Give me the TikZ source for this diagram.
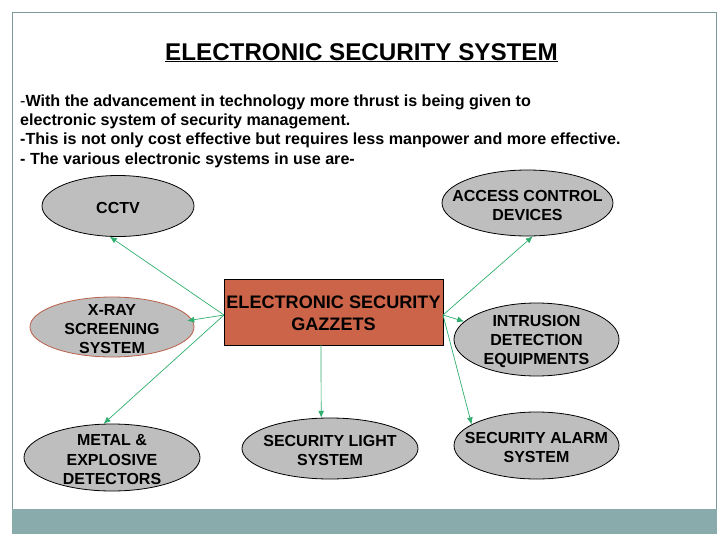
\documentclass[tikz,border=0pt]{standalone}
\usepackage{fontspec}
\setmainfont{Liberation Sans}
\usepackage{tikz}
\usetikzlibrary{arrows.meta}
\usetikzlibrary{shapes.geometric}
\definecolor{teal band}{HTML}{8AABAB}
\definecolor{frame gray}{HTML}{7F9A9A}
\definecolor{arrow green}{HTML}{2FAE6E}
\definecolor{box red}{HTML}{CC6449}
\definecolor{oval gray}{HTML}{BEBEBE}
\definecolor{oval red}{HTML}{B9604A}
\newcommand{\droptext}{\rule{0pt}{15.5pt}}
\tikzset{oval/.style = {ellipse, draw, line width = 0.8pt, fill = oval gray, inner xsep = -70, inner ysep = -30, align = center, font = \fontsize{16}{19.2}\selectfont\bfseries}}
\tikzset{link/.style = {draw = arrow green, line width = 0.7pt, -{Latex[length = 7pt, width = 6pt]}}}
\tikzset{bodyline/.style = {anchor = base west, inner sep = 0, font = \fontsize{16.1}{18}\selectfont\bfseries}}

\begin{document}
\begin{tikzpicture}[x = 1pt, y = -1pt]
    \useasboundingbox (0, 0) rectangle (728, 546);

    \draw [frame gray, line width = 1pt] (12.5, 12.5) rectangle (716, 510);
    \fill [teal band] (12, 509) rectangle (716.5, 534);

    \node (title) [anchor = base, inner sep = 0, font = \fontsize{24.2}{28}\selectfont\bfseries] at (361.5, 60) {\underline{ELECTRONIC SECURITY SYSTEM}};
    \node (lineA) [bodyline] at (20, 106.5) {{\mdseries -}With the advancement in technology more thrust is being given to};
    \node (lineB) [bodyline] at (20, 125.5) {electronic system of security management.};
    \node (lineC) [bodyline] at (20, 144.5) {-This is not only cost effective but requires less manpower and more effective.};
    \node (lineD) [bodyline] at (20, 164) {- The various electronic systems in use are-};

    \node (gazzets) [draw, line width = 0.8pt, fill = box red, minimum width = 219, minimum height = 66, inner sep = 0, align = center, font = \fontsize{18.1}{22}\selectfont\bfseries] at (333.5, 312) {\droptext ELECTRONIC SECURITY\\GAZZETS};

    \node (cctv) [oval, minimum width = 152, minimum height = 61] at (118, 206) {\droptext CCTV};
    \node (xray) [oval, draw = oval red, minimum width = 164, minimum height = 60] at (112, 327) {\droptext X-RAY\\SCREENING\\SYSTEM};
    \node (metal) [oval, minimum width = 176, minimum height = 67] at (112, 457.5) {\droptext METAL \&\\EXPLOSIVE\\DETECTORS};
    \node (light) [oval, minimum width = 176, minimum height = 61] at (330, 448.5) {\droptext SECURITY LIGHT\\SYSTEM};
    \node (access) [oval, minimum width = 171, minimum height = 66] at (527.5, 203) {\droptext ACCESS CONTROL\\DEVICES};
    \node (intrusion) [oval, minimum width = 165, minimum height = 73] at (536.5, 339.5) {\droptext INTRUSION\\DETECTION\\EQUIPMENTS};
    \node (alarm) [oval, minimum width = 165, minimum height = 67] at (536.5, 445.5) {\droptext SECURITY ALARM\\SYSTEM};

    \coordinate (west) at (224, 315);
    \coordinate (east) at (443, 315);
    \coordinate (south) at (321, 345);

    \draw [link] (west) -- (cctv.-105);
    \draw [link, shorten >= -5] (west) -- (xray.5);
    \draw [link] (west) -- (metal.104);
    \draw [link] (south) -- (light.106);
    \draw [link] (east) -- (access.-81);
    \draw [link] (east) -- (intrusion.166);
    \draw [link] (east) -- (alarm.162);
  \end{tikzpicture}
\end{document}
